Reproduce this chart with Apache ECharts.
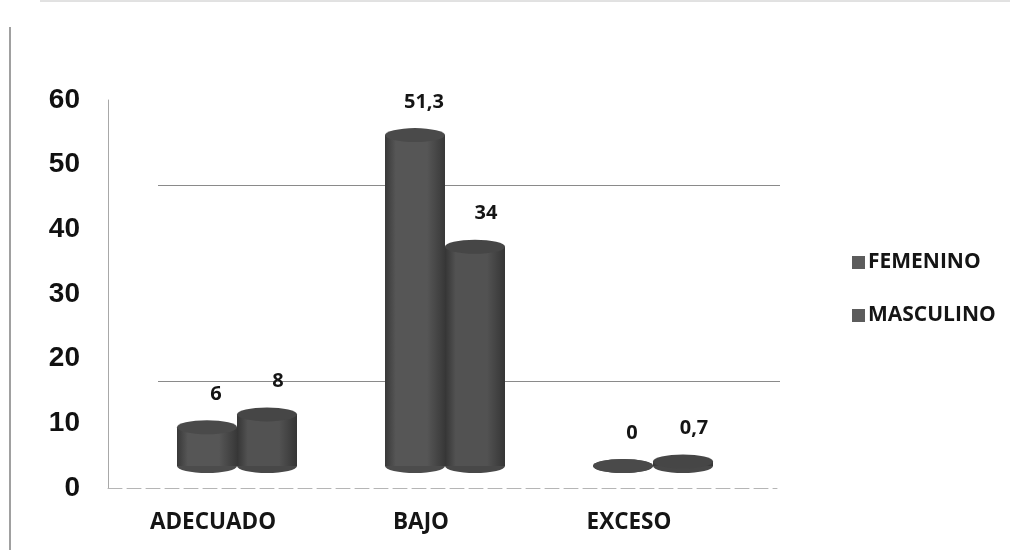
<!DOCTYPE html>
<html>
<head>
<meta charset="utf-8">
<title>Estado nutricional por sexo</title>
<script src="https://cdn.jsdelivr.net/npm/echarts@6/dist/echarts.min.js"></script>
<style>
  html, body { margin: 0; padding: 0; background: #ffffff; }
  #chart { width: 1031px; height: 550px; }
</style>
</head>
<body>
<div id="chart"></div>
<script>
// Categories and values (percentages)
const categories = ['ADECUADO', 'BAJO', 'EXCESO'];
const femenino = [6, 51.3, 0];
const masculino = [8, 34, 0.7];
const seriesNames = ['FEMENINO', 'MASCULINO'];
const yTicks = [0, 10, 20, 30, 40, 50, 60];

const FONT_TEXT = '"Open Sans", "Noto Sans", sans-serif';
const FONT_AXIS = '"Liberation Sans", Arial, sans-serif';
const BAR_W = 60;
const CAP_H = 14;

// Cylinder body shading: darker edges, lighter middle
function bodyFill(mid, edge) {
  return new echarts.graphic.LinearGradient(0, 0, 1, 0, [
    { offset: 0, color: edge },
    { offset: 0.18, color: mid },
    { offset: 0.7, color: mid },
    { offset: 1, color: edge }
  ]);
}

const fmt = v => String(v).replace('.', ',');

const chart = echarts.init(document.getElementById('chart'), null, { renderer: 'canvas' });

const valueLabel = (dx) => ({
  show: true, position: 'top', distance: 23, offset: [dx, 0],
  formatter: p => fmt(p.value),
  fontFamily: FONT_TEXT, fontWeight: 'bold', fontSize: 20, lineHeight: 20, color: '#151515'
});

const option = {
  backgroundColor: '#ffffff',
  animation: false,
  graphic: [
    // page frame: left border and faint top edge
    { type: 'line', shape: { x1: 10, y1: 27, x2: 10, y2: 550 }, style: { stroke: '#808080', lineWidth: 1.5 } },
    { type: 'line', shape: { x1: 40, y1: 1, x2: 1010, y2: 1 }, style: { stroke: '#c4c4c4', lineWidth: 1 } }
  ],
  legend: {
    data: seriesNames,
    orient: 'vertical',
    left: 847,
    top: 247,
    icon: 'rect',
    itemWidth: 13,
    itemHeight: 13,
    itemGap: 32,
    itemStyle: { color: '#5c5c5c' },
    textStyle: { fontFamily: FONT_TEXT, fontWeight: 'bold', fontSize: 21, color: '#151515', padding: [0, 0, 0, -2] }
  },
  grid: [
    // front axis (labels 0-60) and floor edge
    { left: 108, right: 254, top: 100, height: 388 },
    // cylinders
    { left: 133, right: 274, top: 79, height: 387 },
    // back wall gridlines
    { left: 158, right: 251, top: 185, height: 261 }
  ],
  xAxis: [
    {
      gridIndex: 0, type: 'category', data: categories,
      axisLine: { show: true, lineStyle: { color: '#b5b5b5', type: [14, 5], width: 1 } },
      axisTick: { show: false }, axisLabel: { show: false }, splitLine: { show: false }
    },
    {
      gridIndex: 1, type: 'category', data: categories,
      axisLine: { show: false }, axisTick: { show: false },
      axisLabel: {
        margin: 46,
        formatter: v => '{t|' + v + '}',
        rich: {
          t: { fontFamily: FONT_TEXT, fontWeight: 'bold', fontSize: 22.5, lineHeight: 22, color: '#151515', padding: [0, 48, 0, 0] }
        }
      }
    },
    {
      gridIndex: 2, type: 'category', data: categories, show: false
    }
  ],
  yAxis: [
    {
      gridIndex: 0, type: 'value', min: yTicks[0], max: yTicks[yTicks.length - 1], interval: 10,
      axisLine: { show: true, lineStyle: { color: '#a8a8a8', width: 1 } },
      axisTick: { show: false },
      splitLine: { show: false },
      axisLabel: { margin: 28, fontFamily: FONT_AXIS, fontWeight: 'bold', fontSize: 28, color: '#111111' }
    },
    {
      gridIndex: 1, type: 'value', min: 0, max: 60, interval: 10,
      show: false, splitLine: { show: false }
    },
    {
      gridIndex: 2, type: 'value', min: 0, max: 40, interval: 10,
      axisLine: { show: false }, axisTick: { show: false }, axisLabel: { show: false },
      splitLine: {
        show: true,
        lineStyle: { color: ['rgba(0,0,0,0)', '#8a8a8a', 'rgba(0,0,0,0)', 'rgba(0,0,0,0)', '#8a8a8a'], width: 1.2 }
      }
    }
  ],
  series: [
    {
      name: seriesNames[0], type: 'bar', xAxisIndex: 1, yAxisIndex: 1,
      data: femenino, barWidth: BAR_W, barGap: '0%', z: 2,
      itemStyle: { color: bodyFill('#565656', '#383838') },
      label: valueLabel(9)
    },
    {
      name: seriesNames[1], type: 'bar', xAxisIndex: 1, yAxisIndex: 1,
      data: masculino, barWidth: BAR_W, barGap: '0%', z: 2,
      itemStyle: { color: bodyFill('#525252', '#353535') },
      label: valueLabel(11)
    },
    // cylinder caps (top and bottom ellipses)
    {
      name: 'FEMENINO top', type: 'pictorialBar', xAxisIndex: 1, yAxisIndex: 1,
      data: femenino, symbol: 'circle', symbolSize: [BAR_W, CAP_H],
      symbolPosition: 'end', symbolOffset: [-BAR_W / 2, '-50%'], z: 3,
      itemStyle: { color: '#4a4a4a' }, silent: true
    },
    {
      name: 'MASCULINO top', type: 'pictorialBar', xAxisIndex: 1, yAxisIndex: 1,
      data: masculino, symbol: 'circle', symbolSize: [BAR_W, CAP_H],
      symbolPosition: 'end', symbolOffset: [BAR_W / 2, '-50%'], z: 3,
      itemStyle: { color: '#464646' }, silent: true
    },
    {
      name: 'FEMENINO base', type: 'pictorialBar', xAxisIndex: 1, yAxisIndex: 1,
      data: femenino, symbol: 'circle', symbolSize: [BAR_W, CAP_H],
      symbolPosition: 'start', symbolOffset: [-BAR_W / 2, '50%'], z: 1,
      itemStyle: { color: '#4c4c4c' }, silent: true
    },
    {
      name: 'MASCULINO base', type: 'pictorialBar', xAxisIndex: 1, yAxisIndex: 1,
      data: masculino, symbol: 'circle', symbolSize: [BAR_W, CAP_H],
      symbolPosition: 'start', symbolOffset: [BAR_W / 2, '50%'], z: 1,
      itemStyle: { color: '#484848' }, silent: true
    }
  ]
};

chart.setOption(option);
</script>
</body>
</html>
